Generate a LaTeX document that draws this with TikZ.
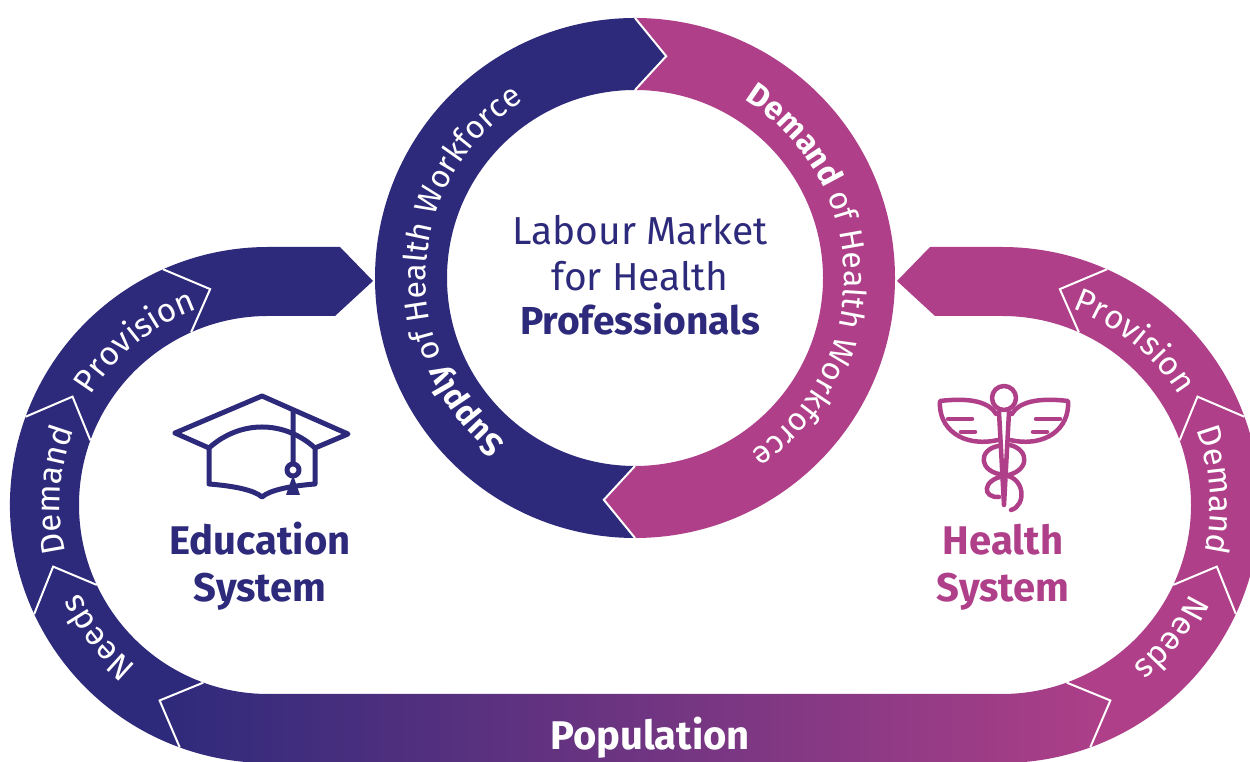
\documentclass[tikz,border=0pt]{standalone}
\usepackage{fontspec}
\setmainfont{Fira Sans}
\usetikzlibrary{decorations.text}
\definecolor{eduBlue}{HTML}{2E2A7B}
\definecolor{hsPink}{HTML}{AE3F88}
\newcommand\arcfont{\fontsize{33}{33}\selectfont}
\newcommand\ringfont{\fontsize{32}{32}\selectfont}
\newcommand\ringbold{\fontsize{32}{32}\selectfont\bfseries}
\begin{document}
\begin{tikzpicture}[x=1pt,y=1pt,
  divider/.style={white,line width=2pt},
  arclabel/.style={decorate,decoration={text along path,text align=center,text color=white}},
  icon/.style={line width=4.5pt,line cap=round,line join=round},
  bigtext/.style={anchor=base,text=eduBlue,font=\fontsize{39}{45}\selectfont},
  systext/.style={anchor=base,font=\fontsize{40}{45}\selectfont\bfseries}]
  \useasboundingbox (0,0) rectangle (1250,762);
  \coordinate (ring) at (635,484);
  \coordinate (edu) at (268,257);
  \coordinate (hs) at (1002,257);

  \fill[eduBlue] ([shift={(edu)}]250:258) arc[start angle=250,end angle=90,radius=258]
    -- (340,515) -- (373,481) -- (335,446) -- ([shift={(edu)}]90:189)
    arc[start angle=90,end angle=250,radius=189] -- cycle;
  \fill[hsPink] ([shift={(hs)}]-70:258) arc[start angle=-70,end angle=90,radius=258]
    -- (930,515) -- (897,481) -- (935,446) -- ([shift={(hs)}]90:189)
    arc[start angle=90,end angle=-70,radius=189] -- cycle;
  \shade[left color=eduBlue,right color=hsPink] ([shift={(edu)}]250:258)
    arc[start angle=250,end angle=270,radius=258] -- ([shift={(hs)}]270:258)
    arc[start angle=270,end angle=290,radius=258] -- ([shift={(hs)}]299:223.5)
    -- ([shift={(hs)}]290:189) arc[start angle=290,end angle=270,radius=189]
    -- ([shift={(edu)}]270:189) arc[start angle=270,end angle=250,radius=189]
    -- ([shift={(edu)}]241:223.5) -- cycle;
  \foreach \c/\a/\t in {edu/250/241,edu/205/196,edu/160/151,edu/114/105,
                        hs/-70/-61,hs/-25/-16,hs/20/29,hs/66/75}
    \draw[divider] ([shift={(\c)}]\a:258) -- ([shift={(\c)}]\t:223.5) -- ([shift={(\c)}]\a:189);

  \fill[eduBlue] ([shift={(ring)}]90:260) -- ([shift={(ring)}]82:224) -- ([shift={(ring)}]90:188)
    arc[start angle=90,end angle=270,radius=188] -- ([shift={(ring)}]262:224)
    -- ([shift={(ring)}]270:260) arc[start angle=270,end angle=90,radius=260] -- cycle;
  \fill[hsPink] ([shift={(ring)}]90:260) -- ([shift={(ring)}]82:224) -- ([shift={(ring)}]90:188)
    arc[start angle=90,end angle=-90,radius=188] -- ([shift={(ring)}]262:224)
    -- ([shift={(ring)}]270:260) arc[start angle=-90,end angle=90,radius=260] -- cycle;
  \draw[divider] ([shift={(ring)}]90:260) -- ([shift={(ring)}]82:224) -- ([shift={(ring)}]90:188);
  \draw[divider] ([shift={(ring)}]270:188) -- ([shift={(ring)}]262:224) -- ([shift={(ring)}]270:260);

  \path[arclabel,decoration={text={|\arcfont|Needs}}] ([shift={(edu)}]258:208) arc[start angle=258,end angle=178,radius=208];
  \path[arclabel,decoration={text={|\arcfont|Demand}}] ([shift={(edu)}]216:208) arc[start angle=216,end angle=136,radius=208];
  \path[arclabel,decoration={text={|\arcfont|Provision}}] ([shift={(edu)}]179:208) arc[start angle=179,end angle=79,radius=208];
  \path[arclabel,decoration={text={|\arcfont|Provision}}] ([shift={(hs)}]101:208) arc[start angle=101,end angle=1,radius=208];
  \path[arclabel,decoration={text={|\arcfont|Demand}}] ([shift={(hs)}]44:208) arc[start angle=44,end angle=-36,radius=208];
  \path[arclabel,decoration={text={|\arcfont|Needs}}] ([shift={(hs)}]2:208) arc[start angle=2,end angle=-78,radius=208];
  \path[arclabel,decoration={text={|\ringbold|Supply |\ringfont|of Health Workforce}}] ([shift={(ring)}]263:209) arc[start angle=263,end angle=91,radius=209];
  \path[arclabel,decoration={text={|\ringbold|Demand |\ringfont|of Health Workforce}}] ([shift={(ring)}]87:209) arc[start angle=87,end angle=-85,radius=209];

  \node[bigtext] (lab1) at (640,517) {Labour Market};
  \node[bigtext] (lab2) at (640,471) {for Health};
  \node[bigtext,font=\fontsize{39}{45}\selectfont\bfseries] (lab3) at (640,427) {Professionals};
  \node[systext,text=eduBlue] (edu1) at (260,207) {Education};
  \node[systext,text=eduBlue] (edu2) at (260,160) {System};
  \node[systext,text=hsPink] (hs1) at (1003,207) {Health};
  \node[systext,text=hsPink] (hs2) at (1003,160) {System};
  \node[systext,text=white] (pop) at (650,12) {Population};

  \begin{scope}[yshift=762pt,yscale=-1]
    \draw[icon,eduBlue,line width=5pt] (175,433) -- (262,396) -- (348,434) -- (315,448) (175,433) -- (209,448);
    \draw[icon,eduBlue,line width=5pt] (209,448) .. controls (240,420) and (284,420) .. (315,448) -- (315,484)
      .. controls (290,486) and (270,490) .. (262,497) .. controls (254,490) and (234,486) .. (209,484) -- cycle;
    \draw[icon,eduBlue,line width=5pt] (293,410) -- (293,463) (293,470) circle[radius=6];
    \fill[eduBlue] (293,475) -- (286,495) -- (300,495) -- cycle;

    \draw[icon,hsPink] (1004,398) circle[radius=12];
    \draw[icon,hsPink] (999,412) -- (1004,505) -- (1009,412);
    \draw[icon,hsPink] (996,414) .. controls (988,400) and (965,398) .. (940,401) .. controls (938,428) and (962,448) .. (998,440);
    \draw[icon,hsPink] (1012,414) .. controls (1020,400) and (1043,398) .. (1068,401) .. controls (1070,428) and (1046,448) .. (1010,440);
    \draw[icon,hsPink] (948,419) -- (972,419) (961,432) -- (975,432) (1060,419) -- (1036,419) (1047,432) -- (1033,432);
    \draw[icon,hsPink] (1010,445) .. controls (1030,450) and (1030,472) .. (1004,476) .. controls (982,480) and (982,498) .. (999,497);
    \draw[icon,hsPink] (998,446) .. controls (978,450) and (978,472) .. (1004,475) .. controls (1026,478) and (1026,506) .. (1011,510);
  \end{scope}
\end{tikzpicture}
\end{document}
